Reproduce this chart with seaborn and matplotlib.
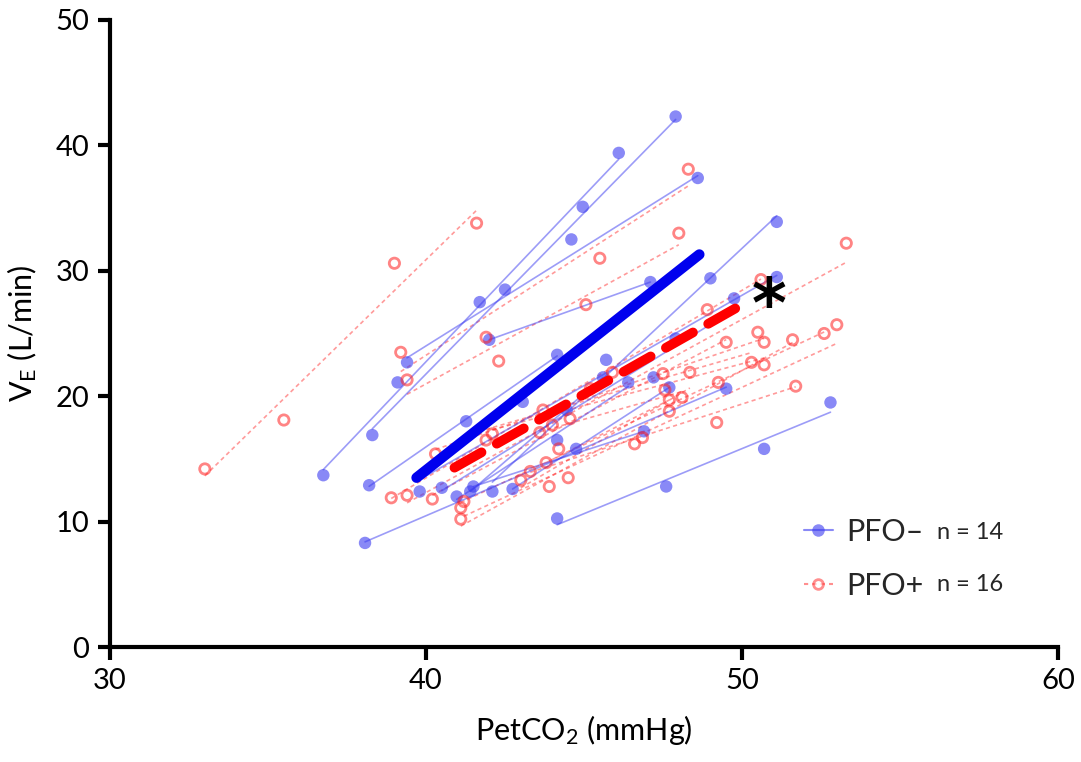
import numpy as np
import pandas as pd
import matplotlib
matplotlib.use("Agg")
import matplotlib.pyplot as plt
from matplotlib.lines import Line2D
import seaborn as sns

# ---------------- data ----------------
# PFO- subjects: PetCO2 (mmHg) and VE (L/min)
neg_x = [
    [36.75, 39.1, 44.96, 46.1],
    [38.3, 41.7, 44.6, 47.9],
    [39.4, 42.5, 48.6],
    [38.07, 44.75, 49.5],
    [38.2, 41.27, 44.15],
    [44.15, 47.6, 50.7, 52.8],
    [42.1, 45.7, 49.0, 51.1],
    [39.8, 43.06, 47.9, 51.1],
    [40.5, 44.45, 47.2, 49.75],
    [40.97, 44.15, 46.4],
    [41.4, 45.6],
    [41.5, 46.9],
    [42.74, 47.7],
    [42.0, 47.1],
]
neg_y = [
    [13.7, 21.1, 35.1, 39.4],
    [16.9, 27.5, 32.5, 42.3],
    [22.7, 28.5, 37.4],
    [8.3, 15.8, 20.6],
    [12.9, 18.0, 23.3],
    [10.25, 12.8, 15.8, 19.5],
    [12.4, 22.9, 29.4, 33.9],
    [12.4, 19.55, 24.6, 29.5],
    [12.7, 18.9, 21.5, 27.8],
    [12.0, 16.5, 21.1],
    [12.4, 21.5],
    [12.8, 17.2],
    [12.6, 20.7],
    [24.5, 29.1],
]
# PFO+ subjects
pos_x = [
    [33.0, 35.5, 39.0, 41.6],
    [39.2, 41.9, 45.5, 48.3],
    [39.4, 42.3, 45.06, 48.0],
    [38.9, 43.7, 48.9, 50.6],
    [39.4, 44.56, 50.5, 53.3],
    [40.2, 44.0, 49.5],
    [40.3, 45.2, 50.7],
    [41.1, 43.9, 47.7, 51.6],
    [41.1, 44.2, 49.25, 52.6],
    [41.2, 44.5, 49.2, 53.0],
    [41.9, 45.9, 50.3],
    [42.1, 47.5, 50.7],
    [43.0, 46.6, 48.35],
    [43.3, 46.85, 51.7],
    [43.6, 47.56, 48.1],
    [43.8, 47.7],
]
pos_y = [
    [14.2, 18.1, 30.6, 33.8],
    [23.5, 24.7, 31.0, 38.1],
    [21.3, 22.8, 27.3, 33.0],
    [11.9, 18.9, 26.9, 29.3],
    [12.1, 18.2, 25.1, 32.2],
    [11.8, 17.7, 24.3],
    [15.4, 20.6, 24.3],
    [10.2, 12.8, 18.8, 24.5],
    [11.1, 15.8, 21.1, 25.0],
    [11.6, 13.5, 17.9, 25.7],
    [16.5, 21.9, 22.7],
    [17.0, 21.8, 22.5],
    [13.3, 16.2, 21.9],
    [14.0, 16.7, 20.8],
    [17.1, 20.5, 19.9],
    [14.7, 19.7],
]
# group mean regression lines (end points)
neg_fit_x = [39.7, 48.65]
neg_fit_y = [13.5, 31.3]
pos_fit_x = [40.9, 50.0]
pos_fit_y = [14.3, 27.3]

legend_labels = ["PFO\u2013", "PFO+"]
n_labels = ["n = 14", "n = 16"]
x_ticks = [30, 40, 50, 60]
y_ticks = [0, 10, 20, 30, 40, 50]

# ---------------- style ----------------
sns.set_theme(style="white")
FONT = "Lato"
plt.rcParams["font.family"] = [FONT, "DejaVu Sans"]
plt.rcParams["mathtext.fontset"] = "custom"
plt.rcParams["mathtext.rm"] = FONT
plt.rcParams["mathtext.it"] = FONT

BLUE = "#3a3af0"
RED = "#ff2020"

fig = plt.figure(figsize=(10.81, 7.62), dpi=100)
ax = fig.add_axes([0.1018, 0.1509, 0.8769, 0.8229])

# individual subject regressions + points
for xs, ys in zip(pos_x, pos_y):
    df = pd.DataFrame({"x": xs, "y": ys})
    sns.regplot(data=df, x="x", y="y", ax=ax, ci=None, scatter=False, truncate=True,
                line_kws=dict(color=RED, alpha=0.45, lw=1.2, linestyle=(0, (2.5, 2))))
for xs, ys in zip(neg_x, neg_y):
    df = pd.DataFrame({"x": xs, "y": ys})
    sns.regplot(data=df, x="x", y="y", ax=ax, ci=None, scatter=False, truncate=True,
                line_kws=dict(color=BLUE, alpha=0.5, lw=1.2))

allnx = np.concatenate(neg_x); allny = np.concatenate(neg_y)
allpx = np.concatenate(pos_x); allpy = np.concatenate(pos_y)
ax.scatter(allnx, allny, s=80, color=BLUE, alpha=0.6, edgecolors="none", zorder=3)
ax.scatter(allpx, allpy, s=55, facecolors="none", edgecolors=RED, alpha=0.55,
           linewidths=2.0, zorder=3)

# group lines
sns.lineplot(x=neg_fit_x, y=neg_fit_y, ax=ax, color="#0000ee", lw=7.5,
             solid_capstyle="round", zorder=5)
sns.lineplot(x=pos_fit_x, y=pos_fit_y, ax=ax, color="#ff0000", lw=7,
             dashes=False, zorder=5)
ax.lines[-1].set_linestyle((0, (3.2, 1.8)))
ax.lines[-1].set_dash_capstyle("round")

ax.text(50.85, 27.0, "*", fontsize=48, fontweight="bold", ha="center", va="center",
        color="black", family="DejaVu Sans", zorder=6)

# axes
ax.set_xlim(30, 60)
ax.set_ylim(0, 50)
ax.set_xticks(x_ticks)
ax.set_yticks(y_ticks)
ax.tick_params(axis="both", which="major", direction="out", length=9, width=3,
               labelsize=21, color="black", labelcolor="black", pad=6,
               bottom=True, left=True)
for s in ["top", "right"]:
    ax.spines[s].set_visible(False)
for s in ["left", "bottom"]:
    ax.spines[s].set_linewidth(3)
    ax.spines[s].set_color("black")
ax.set_xlabel("PetCO$_\\mathrm{2}$ (mmHg)", fontsize=22, labelpad=14, color="black")
ax.set_ylabel("V$_\\mathrm{E}$ (L/min)", fontsize=22, labelpad=12, color="black")

# legend
handles = [
    Line2D([], [], color=BLUE, alpha=0.6, lw=1.5, marker="o", markersize=9,
           markeredgecolor="none"),
    Line2D([], [], color=RED, alpha=0.5, lw=1.5, linestyle=(0, (2, 2)), marker="o",
           markersize=7, markerfacecolor="white", markeredgewidth=2),
]
leg = ax.legend(handles, legend_labels, loc="center left", bbox_to_anchor=(0.703, 0.141),
                frameon=False, fontsize=22, handlelength=0.95, handletextpad=0.45,
                labelspacing=0.85)
ax.text(0.872, 0.183, n_labels[0], transform=ax.transAxes, fontsize=17, va="center")
ax.text(0.872, 0.099, n_labels[1], transform=ax.transAxes, fontsize=17, va="center")

fig.savefig("out.png", dpi=100)
